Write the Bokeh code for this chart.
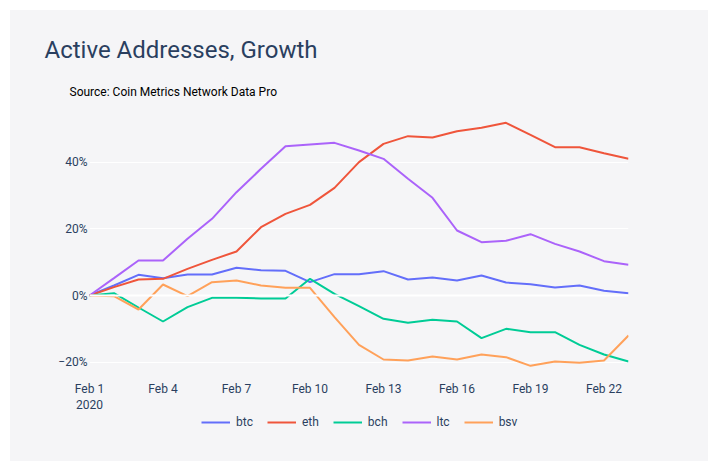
from datetime import datetime
from bokeh.plotting import figure
from bokeh.layouts import column
from bokeh.models import (Range1d, FixedTicker, DaysTicker, DatetimeTickFormatter,
                          Legend, LegendItem, Title, Span, ColumnDataSource)
from bokeh.embed import file_html
from bokeh.resources import INLINE

dates = ["2020-02-01", "2020-02-02", "2020-02-03", "2020-02-04", "2020-02-05",
         "2020-02-06", "2020-02-07", "2020-02-08", "2020-02-09", "2020-02-10",
         "2020-02-11", "2020-02-12", "2020-02-13", "2020-02-14", "2020-02-15",
         "2020-02-16", "2020-02-17", "2020-02-18", "2020-02-19", "2020-02-20",
         "2020-02-21", "2020-02-22", "2020-02-23"]

btc = [0, 3.0, 6.2, 5.2, 6.3, 6.3, 8.3, 7.6, 7.4, 4.0, 6.4, 6.4, 7.3,
       4.8, 5.4, 4.5, 6.0, 3.9, 3.4, 2.4, 3.0, 1.4, 0.7]
eth = [0, 2.5, 4.8, 5.0, 8.0, 10.7, 13.2, 20.5, 24.5, 27.2, 32.3, 40.0, 45.5,
       47.8, 47.4, 49.3, 50.3, 51.8, 48.2, 44.5, 44.5, 42.7, 41.0]
bch = [0, 0.7, -3.6, -7.8, -3.5, -0.7, -0.7, -0.9, -0.9, 5.0, 0.5, -3.2, -7.0,
       -8.2, -7.3, -7.8, -12.8, -10.0, -11.0, -11.0, -14.8, -17.7, -19.8]
ltc = [0, 5.2, 10.5, 10.5, 17.0, 23.0, 31.0, 38.0, 44.8, 45.3, 45.8, 43.5, 41.0,
       35.0, 29.3, 19.5, 16.0, 16.4, 18.4, 15.5, 13.2, 10.3, 9.2]
bsv = [0, -0.2, -4.2, 3.3, -0.2, 4.0, 4.5, 3.0, 2.3, 2.3, -6.5, -14.8, -19.2,
       -19.5, -18.3, -19.2, -17.7, -18.5, -21.1, -19.8, -20.2, -19.5, -12.0]

series_names = ["btc", "eth", "bch", "ltc", "bsv"]
series_values = [btc, eth, bch, ltc, bsv]
colors = ["#636EFA", "#EF553B", "#00CC96", "#AB63FA", "#FFA15A"]

y_ticks = [-20, 0, 20, 40]
y_tick_labels = {-20: "\u221220%", 0: "0%", 20: "20%", 40: "40%"}

x = [datetime.strptime(d, "%Y-%m-%d") for d in dates]

CARD = "#f5f5f7"
FONT = "Roboto"
TXT = "#2a3f5f"

p = figure(frame_width=539, frame_height=267, output_backend="svg", toolbar_location=None,
           x_axis_type="datetime",
           x_range=Range1d(x[0], x[-1]), y_range=Range1d(-24.6, 55.5),
           min_border_left=79, min_border_right=80, min_border_top=100,
           min_border_bottom=34)
p.background_fill_color = CARD
p.border_fill_color = CARD
p.outline_line_color = None

sources = []
for name, vals, c in zip(series_names, series_values, colors):
    src = ColumnDataSource(dict(x=x, y=vals))
    sources.append(src)
    p.line("x", "y", source=src, line_color=c, line_width=2)

p.add_layout(Span(location=0, dimension="width", line_color="white", line_width=2), "center")

# axes
p.xaxis.ticker = DaysTicker(days=[1, 4, 7, 10, 13, 16, 19, 22])
p.xaxis.formatter = DatetimeTickFormatter(days="%b %-d", months="%b %-d",
                                          context="%Y", context_which="start")
p.yaxis.ticker = FixedTicker(ticks=y_ticks)
p.yaxis.major_label_overrides = y_tick_labels
for ax in (p.xaxis[0], p.yaxis[0]):
    ax.axis_line_color = None
    ax.major_tick_line_color = None
    ax.minor_tick_line_color = None
    ax.major_tick_out = 0
    ax.major_tick_in = 0
    ax.minor_tick_out = 0
    ax.major_label_text_font = FONT
    ax.major_label_text_font_size = "12px"
    ax.major_label_text_color = TXT
p.xaxis.major_label_standoff = 4
p.yaxis.major_label_standoff = 2

p.xgrid.grid_line_color = None
p.ygrid.grid_line_color = "white"
p.ygrid.grid_line_width = 1
p.ygrid.ticker = FixedTicker(ticks=y_ticks)

p.add_layout(Title(text="Source: Coin Metrics Network Data Pro", align="left",
                   offset=-20, text_font=FONT, text_font_size="12px",
                   text_font_style="normal", text_color="#000000",
                   standoff=24), "above")
p.add_layout(Title(text="Active Addresses, Growth", align="left",
                   offset=-45, text_font=FONT, text_font_size="24px",
                   text_font_style="normal", text_color=TXT,
                   standoff=14), "above")

# legend strip on the same card; its keys are hidden copies of the series lines
lp = figure(width=698, height=46, output_backend="svg", toolbar_location=None,
            x_range=Range1d(x[0], x[-1]), y_range=Range1d(-24.6, 55.5),
            min_border_left=79, min_border_right=80,
            min_border_top=0, min_border_bottom=0)
lp.axis.visible = False
lp.grid.visible = False
lp.background_fill_color = CARD
lp.border_fill_color = CARD
lp.outline_line_color = None
items = []
for name, src, c in zip(series_names, sources, colors):
    r = lp.line("x", "y", source=src, line_color=c, line_width=2, visible=False)
    items.append(LegendItem(label=name, renderers=[r]))
legend = Legend(items=items, orientation="horizontal", location=(112, 32),
                background_fill_alpha=0, border_line_color=None,
                inactive_fill_alpha=0,
                padding=0, margin=0, spacing=14, label_standoff=6,
                glyph_width=29, glyph_height=14, label_height=14, label_width=0,
                label_text_font=FONT, label_text_font_size="12px",
                label_text_color=TXT, click_policy="none")
lp.add_layout(legend, "center")

layout = column(p, lp, spacing=0, margin=(10, 0, 0, 10),
                styles={"background-color": CARD})
open("out.html", "w").write(file_html(layout, INLINE))
